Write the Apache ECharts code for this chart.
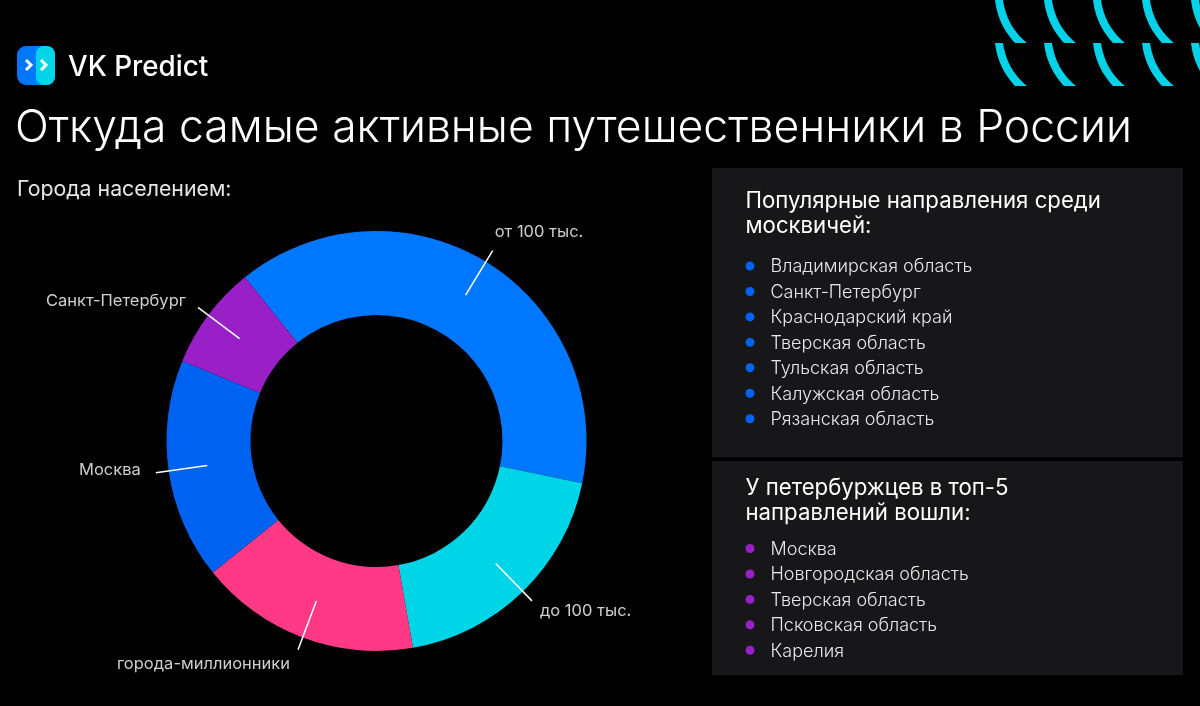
<!DOCTYPE html>
<html><head><meta charset="utf-8">
<style>html,body{margin:0;padding:0;background:#000}#c{width:1200px;height:706px}</style>
<script src="https://cdn.jsdelivr.net/npm/echarts@6/dist/echarts.min.js"></script>
</head><body><div id="c"></div>
<script>
const categories = ['от 100 тыс.', 'до 100 тыс.', 'города-миллионники', 'Москва', 'Санкт-Петербург'];
const shares = [39, 19, 17, 17, 8];
const sliceColors = ['#0077FF', '#00D5E8', '#FF3985', '#0062F0', '#9820C6'];
const labelShift = [[-3,-19], [3,10], [-3,14], [-10,-3], [-7,-6]];
const moscowTitle = ['Популярные направления среди', 'москвичей:'];
const moscowList = ['Владимирская область','Санкт-Петербург','Краснодарский край','Тверская область','Тульская область','Калужская область','Рязанская область'];
const spbTitle = ['У петербуржцев в топ-5', 'направлений вошли:'];
const spbList = ['Москва','Новгородская область','Тверская область','Псковская область','Карелия'];

const FF = 'Inter, "Noto Sans", sans-serif';
function txt(x, y, text, size, weight, fill) {
  return {type:'text', silent:true, x, y, style:{text, fontSize:size, fontWeight:weight, fontFamily:FF, fill, textVerticalAlign:'middle', textAlign:'left'}};
}
const g = [];
function arc(x, y) {
  const pts = [];
  const q = (a,b,c,t)=>[(1-t)*(1-t)*a[0]+2*(1-t)*t*b[0]+t*t*c[0], (1-t)*(1-t)*a[1]+2*(1-t)*t*b[1]+t*t*c[1]];
  for (let i=0;i<=12;i++) pts.push(q([8,0],[12,27],[32,43],i/12));
  for (let i=12;i>=0;i--) pts.push(q([0,0],[3,25],[20,43],i/12));
  return {type:'polygon', silent:true, shape:{points:pts.map(p=>[p[0]+x,p[1]+y])}, style:{fill:'#05D2E8'}};
}
[995,1044,1093,1142,1191].forEach(x=>{ g.push(arc(x,0)); g.push(arc(x,43)); });
g.push({type:'rect', silent:true, shape:{x:17,y:46,width:38,height:39,r:9}, style:{fill:'#0077FF'}});
g.push({type:'rect', silent:true, shape:{x:36,y:46,width:19,height:39,r:8}, style:{fill:'#00D5E8'}});
[[26,60],[41,60]].forEach(p=>{
  g.push({type:'polyline', silent:true, shape:{points:[[p[0],p[1]],[p[0]+5,p[1]+5],[p[0],p[1]+10]]}, style:{stroke:'#fff',lineWidth:3,fill:'none'}});
});
g.push(txt(68,68,'VK Predict',27.8,500,'#fff'));
g.push(txt(15,129,'Откуда самые активные путешественники в России',44.5,300,'#fff'));
g.push(txt(17,190,'Города населением:',21.3,400,'#e6e6e6'));
g.push({type:'rect', silent:true, shape:{x:712,y:168,width:471,height:289}, style:{fill:'#17171A'}});
g.push({type:'rect', silent:true, shape:{x:712,y:461,width:471,height:214}, style:{fill:'#17171A'}});
function block(title, list, ty, ly, col) {
  title.forEach((t,i)=>g.push(txt(745.5, ty+i*25, t, 22.2, 400, '#fff')));
  list.forEach((t,i)=>{
    const y = ly+i*25.45;
    g.push({type:'circle', silent:true, shape:{cx:750,cy:y,r:4.5}, style:{fill:col}});
    g.push(txt(770.5, y+1, t, 18, 300, '#e8e8e8'));
  });
}
block(moscowTitle, moscowList, 201.5, 266, '#0062F0');
block(spbTitle, spbList, 488.5, 548.5, '#9820C6');

const pieData = categories.map((name,i)=>({name, value:shares[i], itemStyle:{color:sliceColors[i]}}));
const lineData = categories.map((name,i)=>({name, value:shares[i], itemStyle:{color:'rgba(0,0,0,0)'}}));
const chart = echarts.init(document.getElementById('c'), null, {renderer:'canvas'});
chart.setOption({
  backgroundColor:'#000',
  animation:false,
  tooltip:{show:false},
  series:[
    {type:'pie', center:[376.5,441], radius:[126,210], startAngle:128.8, clockwise:true, silent:true, label:{show:false}, labelLine:{show:false}, data:pieData, z:2},
    {type:'pie', center:[376.5,441], radius:[0,171], startAngle:128.8, clockwise:true, silent:true, avoidLabelOverlap:false, z:3,
      label:{show:true, position:'outside', color:'#cfcfcf', fontSize:16.5, fontFamily:FF, fontWeight:400},
      labelLine:{show:true, length:52, length2:0, lineStyle:{color:'#fff', width:1.5}},
      labelLayout:function(p){ const s=labelShift[p.dataIndex]; return {dx:s[0], dy:s[1]}; },
      data:lineData}
  ],
  graphic:{elements:g}
});
</script></body></html>
